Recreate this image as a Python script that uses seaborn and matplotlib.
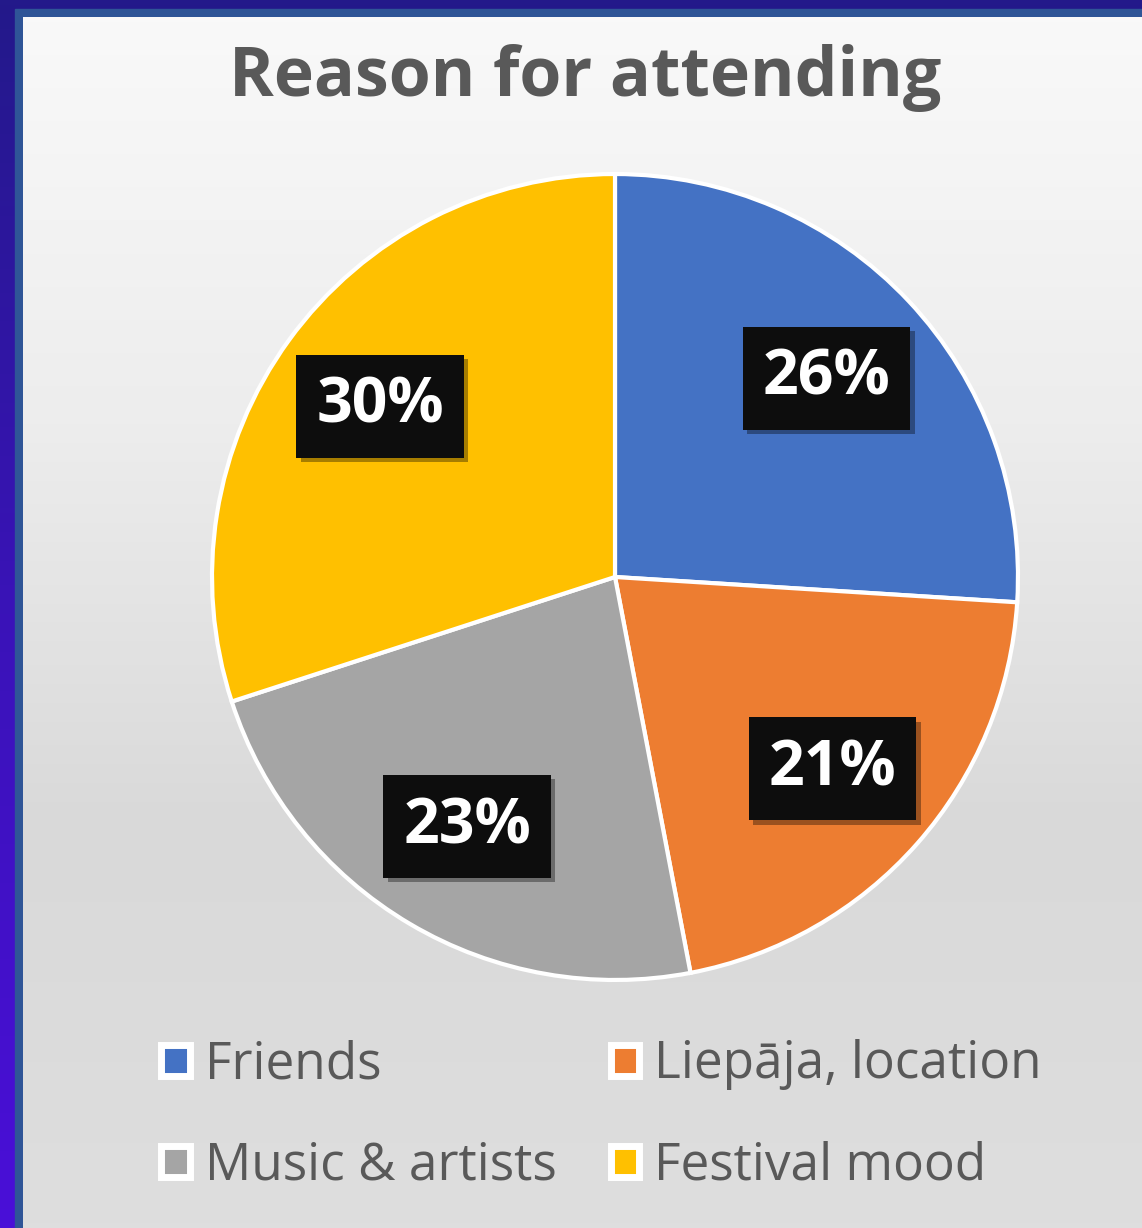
import numpy as np
import seaborn as sns
import matplotlib.pyplot as plt
import matplotlib.patheffects as pe
from matplotlib.colors import LinearSegmentedColormap
from matplotlib.patches import Rectangle, Patch

# data
reasons = ['Friends', 'Liepāja, location', 'Music & artists', 'Festival mood']
shares = [26, 21, 23, 30]
colors = ['#4472C4', '#ED7D31', '#A5A5A5', '#FFC000']
title = 'Reason for attending'

sns.set_theme(style='white')
plt.rcParams['font.family'] = ['Open Sans', 'DejaVu Sans']

W, H = 1142, 1228
fig = plt.figure(figsize=(W / 100, H / 100), dpi=100)

# background: purple frame + grey gradient chart area
bg = fig.add_axes([0, 0, 1, 1])
bg.set_xlim(0, W)
bg.set_ylim(H, 0)
bg.axis('off')
grad = np.linspace(0, 1, 256).reshape(-1, 1)
frame_cmap = LinearSegmentedColormap.from_list('frame', ['#23198A', '#3A13B8', '#4A0FD8'])
bg.imshow(grad, cmap=frame_cmap, extent=[0, W, H, 0], aspect='auto', zorder=0)
bg.add_patch(Rectangle((15, 9), W, H, color='#2F5597', zorder=1))
chart_cmap = LinearSegmentedColormap.from_list('chart', ['#F9F9F9', '#EDEDED', '#D9D9D9', '#DEDEDE'])
bg.imshow(grad, cmap=chart_cmap, extent=[23, W, H, 17], aspect='auto', zorder=2)

fig.text(0.512, 1 - 78 / H, title, ha='center', va='center',
         fontsize=49, fontweight='bold', color='#595959')

# pie
cx, cy, r = 615, 577, 405
ax = fig.add_axes([(cx - r) / W, (H - cy - r) / H, 2 * r / W, 2 * r / H])
wedges, _, autotexts = ax.pie(
    shares, colors=colors, startangle=90, counterclock=False,
    autopct='%d%%', pctdistance=0.72,
    wedgeprops=dict(edgecolor='white', linewidth=3),
    textprops=dict(color='white', fontsize=45, fontweight='bold'))
ax.set_xlim(-1.005, 1.005)
ax.set_ylim(-1.005, 1.005)
ax.set_aspect('equal')
ax.axis('off')

for t in autotexts:
    t.set_bbox(dict(boxstyle='square,pad=0.32', facecolor='#0D0D0D', edgecolor='none'))
    t.set_zorder(5)
    t.get_bbox_patch().set_path_effects(
        [pe.SimplePatchShadow(offset=(3, -3), shadow_rgbFace='black', alpha=0.35), pe.Normal()])

# legend filled row by row like the reference (matplotlib fills by column)
order = [0, 2, 1, 3]
handles = [Patch(facecolor=colors[i], edgecolor='white', linewidth=5) for i in order]
labels = [reasons[i] for i in order]
fig.legend(handles, labels, ncol=2, loc='upper left',
           bbox_to_anchor=(115 / W, 1 - 993 / H), frameon=False,
           fontsize=37, labelcolor='#595959', handlelength=0.55, handleheight=0.55,
           handletextpad=0.3, columnspacing=1.05, labelspacing=0.98)

fig.savefig('out.png', dpi=100)
